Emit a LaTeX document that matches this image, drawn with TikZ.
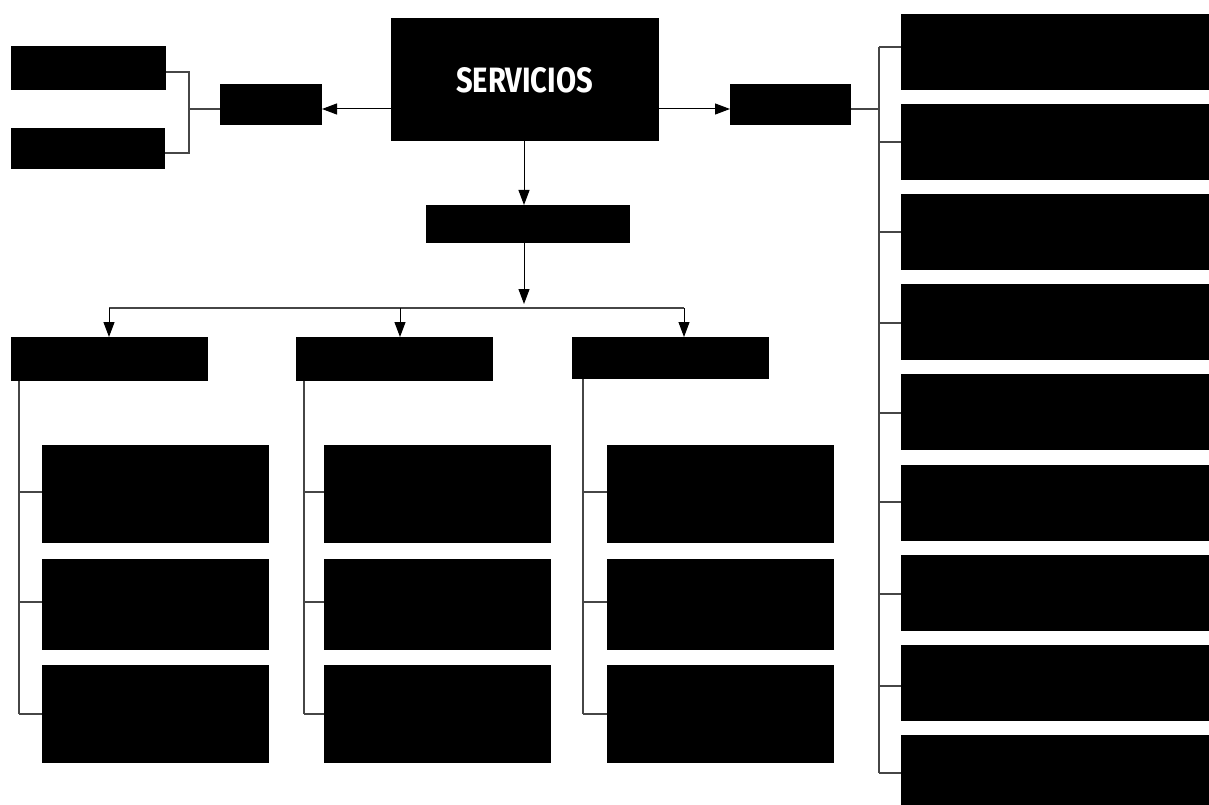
\documentclass[tikz,border=0pt]{standalone}
\usepackage{fontspec}
\setmainfont{Fira Sans}
\usetikzlibrary{arrows.meta,calc}
\tikzset{
  blk/.style={fill=black, draw=none, inner sep=0pt, outer sep=0pt, anchor=north west},
  link/.style={draw={rgb,255:red,70;green,70;blue,70}, line width=1.3pt},
  arr/.style={draw=black, line width=1pt, -{Triangle[length=15pt,width=11pt]}},
  lbl/.style={text=white, inner sep=0pt, anchor=center}
}
\newcommand{\bx}[5]{\node[blk, minimum width={#4pt-#2pt}, minimum height={#5pt-#3pt}] (#1) at (#2,#3) {};}
\begin{document}
\begin{tikzpicture}[x=1pt,y=-1pt]
\useasboundingbox (0,0) rectangle (1209,805);
% top row
\bx{serv}{391}{18}{659}{141}
\node[lbl] (servt) at (524.5,80.5) {\resizebox{137pt}{25pt}{\bfseries SERVICIOS}};
\bx{la}{220}{84}{322}{125}
\bx{l1}{11}{46}{166}{90}
\bx{l2}{11}{128}{165}{169}
\bx{rb}{730}{84}{851}{125}
\bx{mid}{426}{205}{630}{243}
% three columns
\bx{c1}{11}{337}{208}{381}
\bx{c2}{296}{337}{493}{381}
\bx{c3}{572}{337}{769}{379}
\foreach \n/\xa/\xb in {1/42/269, 2/324/551, 3/607/834}{
  \bx{c\n a}{\xa}{445}{\xb}{543}
  \bx{c\n b}{\xa}{559}{\xb}{650}
  \bx{c\n c}{\xa}{665}{\xb}{763}
}
% right column
\foreach \i in {1,...,9}{
  \pgfmathsetmacro{\ty}{14+90.1*(\i-1)}
  \pgfmathsetmacro{\by}{\ty+76}
  \bx{r\i}{901}{\ty}{1209}{\by}
}
% coordinates
\coordinate (hy) at (0,109);
\coordinate (lbx) at (189,0);
\coordinate (rvx) at (879,0);
\coordinate (busy) at (0,308);
\coordinate (tip) at (524,304);
% left side
\draw[arr] (serv.west |- hy) -- (la.east |- hy);
\draw[link] (l1.east |- 0,72) -- (lbx |- 0,72) -- (lbx |- 0,153) -- (l2.east |- 0,153);
\draw[link] (lbx |- hy) -- (la.west |- hy);
% right side
\draw[arr] (serv.east |- hy) -- (rb.west |- hy);
\draw[link] (rb.east |- hy) -- (rvx |- hy);
\draw[link] (rvx |- 0,47) -- (rvx |- 0,773);
\draw[link] (rvx |- 0,47) -- (r1.west |- 0,47);
\foreach \i/\yy in {2/142,3/232,4/323,5/413,6/502,7/594,8/686,9/773}{
  \draw[link] (rvx |- 0,\yy) -- (r\i.west |- 0,\yy);
}
% down
\draw[arr] (serv.south -| tip) -- (mid.north -| tip);
\draw[arr] (mid.south -| tip) -- (tip);
\draw[link] (109,308) -- (684,308);
\draw[arr] (busy -| 109,0) -- (c1.north -| 109,0);
\draw[arr] (busy -| 400,0) -- (c2.north -| 400,0);
\draw[arr] (busy -| 684,0) -- (c3.north -| 684,0);
% column trees
\foreach \n/\vx in {1/19, 2/304, 3/583}{
  \draw[link] (c\n.south -| \vx,0) -- (\vx,714);
  \draw[link] (\vx,492) -- (c\n a.west |- 0,492);
  \draw[link] (\vx,602) -- (c\n b.west |- 0,602);
  \draw[link] (\vx,714) -- (c\n c.west |- 0,714);
}
\end{tikzpicture}
\end{document}
